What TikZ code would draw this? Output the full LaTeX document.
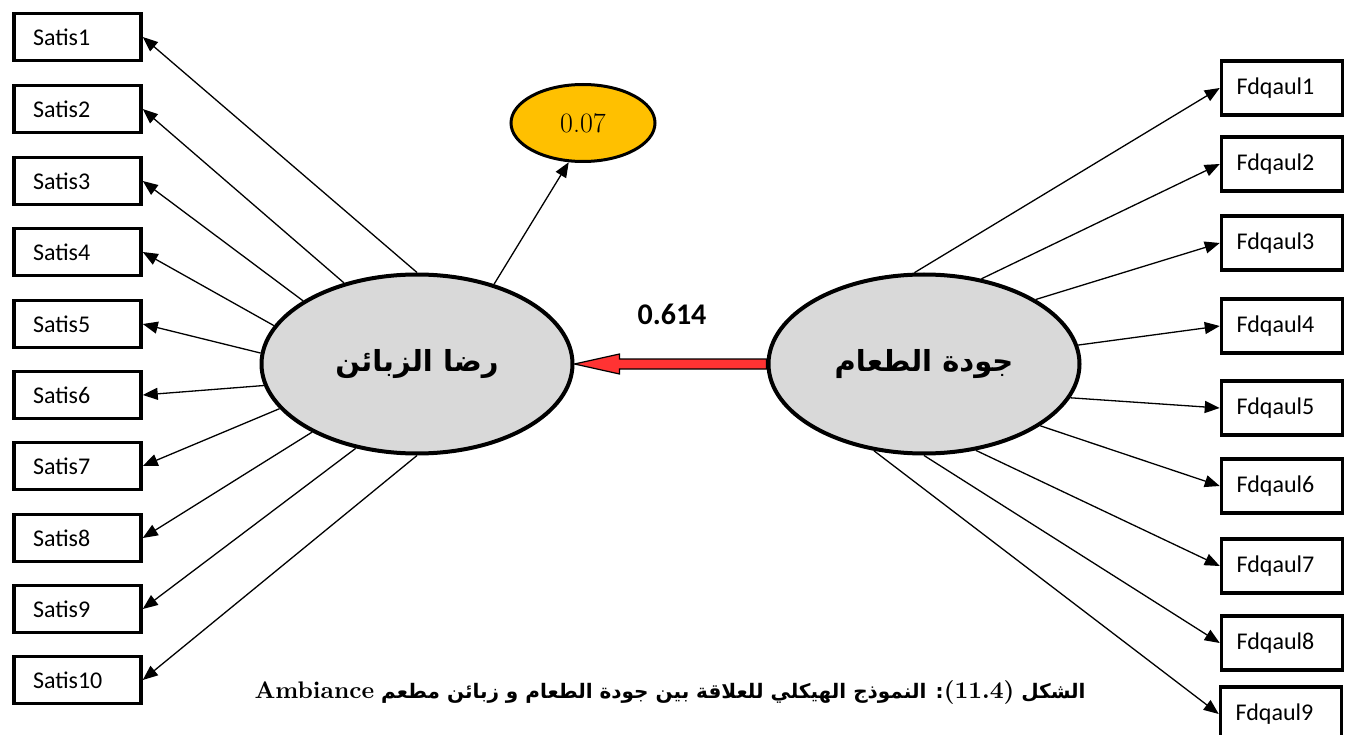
\documentclass[tikz,border=0pt]{standalone}
\usepackage{fontspec}
\setsansfont{Carlito}
\newfontfamily\arabicfont[Script=Arabic]{DejaVu Sans}
\newfontfamily\lmbold{lmroman10-bold.otf}
\TeXXeTstate=1
\usetikzlibrary{arrows.meta,shapes.geometric,calc}

\definecolor{latentgray}{HTML}{D9D9D9}
\definecolor{errgold}{HTML}{FFC000}
\definecolor{pathred}{HTML}{FF3333}

\newcommand\latin[1]{\beginL{\lmbold\fontsize{24}{28}\selectfont #1}\endL}

\begin{document}
\begin{tikzpicture}[
  x = 1pt, y = -1pt,
  every node/.style = {inner sep=2pt},
  item/.style = {draw, line width=3.5pt, minimum height=47pt,
                 text width=89pt, align=left, inner xsep=19pt,
                 font=\sffamily\fontsize{24}{28}\selectfont},
  ritem/.style = {item, text width=91pt, inner xsep=15pt, minimum height=54pt},
  latent/.style = {ellipse, draw, line width=4pt, fill=latentgray,
                   minimum width=311pt, minimum height=179pt,
                   font=\arabicfont\bfseries\fontsize{29}{34}\selectfont},
  err/.style = {ellipse, draw, line width=3pt, fill=errgold,
                minimum width=144pt, minimum height=77pt,
                font=\fontsize{28}{32}\selectfont},
  load/.style = {draw, line width=1.3pt, -{Triangle[length=15pt, width=12pt]}},
]
\useasboundingbox (0,0) rectangle (1355,735);

% latent variables
\node[latent] (sat)  at (417, 364) {\beginR رضا الزبائن\endR};
\node[latent] (food) at (924, 364) {\beginR جودة الطعام\endR};
\node[err]    (r2)   at (583, 123) {0.07};

% indicators of satisfaction
\node[item] (satis1)  at (77.5,  37) {Satis1};
\node[item] (satis2)  at (77.5, 109) {Satis2};
\node[item] (satis3)  at (77.5, 181) {Satis3};
\node[item] (satis4)  at (77.5, 252) {Satis4};
\node[item] (satis5)  at (77.5, 324) {Satis5};
\node[item] (satis6)  at (77.5, 395) {Satis6};
\node[item] (satis7)  at (77.5, 466) {Satis7};
\node[item] (satis8)  at (77.5, 538) {Satis8};
\node[item] (satis9)  at (77.5, 609) {Satis9};
\node[item] (satis10) at (77.5, 680) {Satis10};

% indicators of food quality
\node[ritem] (fdq1) at (1282,  88) {Fdqaul1};
\node[ritem] (fdq2) at (1282, 164) {Fdqaul2};
\node[ritem] (fdq3) at (1282, 243) {Fdqaul3};
\node[ritem] (fdq4) at (1282, 326) {Fdqaul4};
\node[ritem] (fdq5) at (1282, 408) {Fdqaul5};
\node[ritem] (fdq6) at (1282, 486) {Fdqaul6};
\node[ritem] (fdq7) at (1282, 566) {Fdqaul7};
\node[ritem] (fdq8) at (1282, 643) {Fdqaul8};
\node[ritem] (fdq9) at (1281, 714) {Fdqaul9};

\foreach \i/\a in {1/90, 2/132, 3/151, 4/165, 5/176,
                   6/188, 7/198, 8/213, 9/234, 10/270}
  \draw[load] (sat.\a) -- (satis\i.east);

\foreach \i/\a in {1/96, 2/56, 3/30, 4/7, 5/347,
                   6/332, 7/301, 8/270, 9/240}
  \draw[load] (food.\a) -- (fdq\i.west);

\draw[load] (sat.46) -- (r2.250);

% structural path
\coordinate (tip)  at (sat.east);
\coordinate (tail) at (food.west);
\filldraw[fill=pathred, line width=1.2pt]
  (tip) -- ++(45,-10) -- ++(0,5) -- ($(tail)+(0,-5)$) -- ($(tail)+(0,5)$)
  -- ($(tip)+(45,5)$) -- ++(0,5) -- cycle;
\node[font=\sffamily\bfseries\fontsize{30}{36}\selectfont] (coef) at (672, 314) {0.614};

% caption
\node[font=\arabicfont\bfseries\fontsize{20}{24}\selectfont] (caption) at (670, 692)
  {\beginR الشكل \latin{(11.4)}: النموذج الهيكلي للعلاقة بين جودة الطعام و زبائن مطعم \latin{Ambiance}\endR};

\end{tikzpicture}
\end{document}
